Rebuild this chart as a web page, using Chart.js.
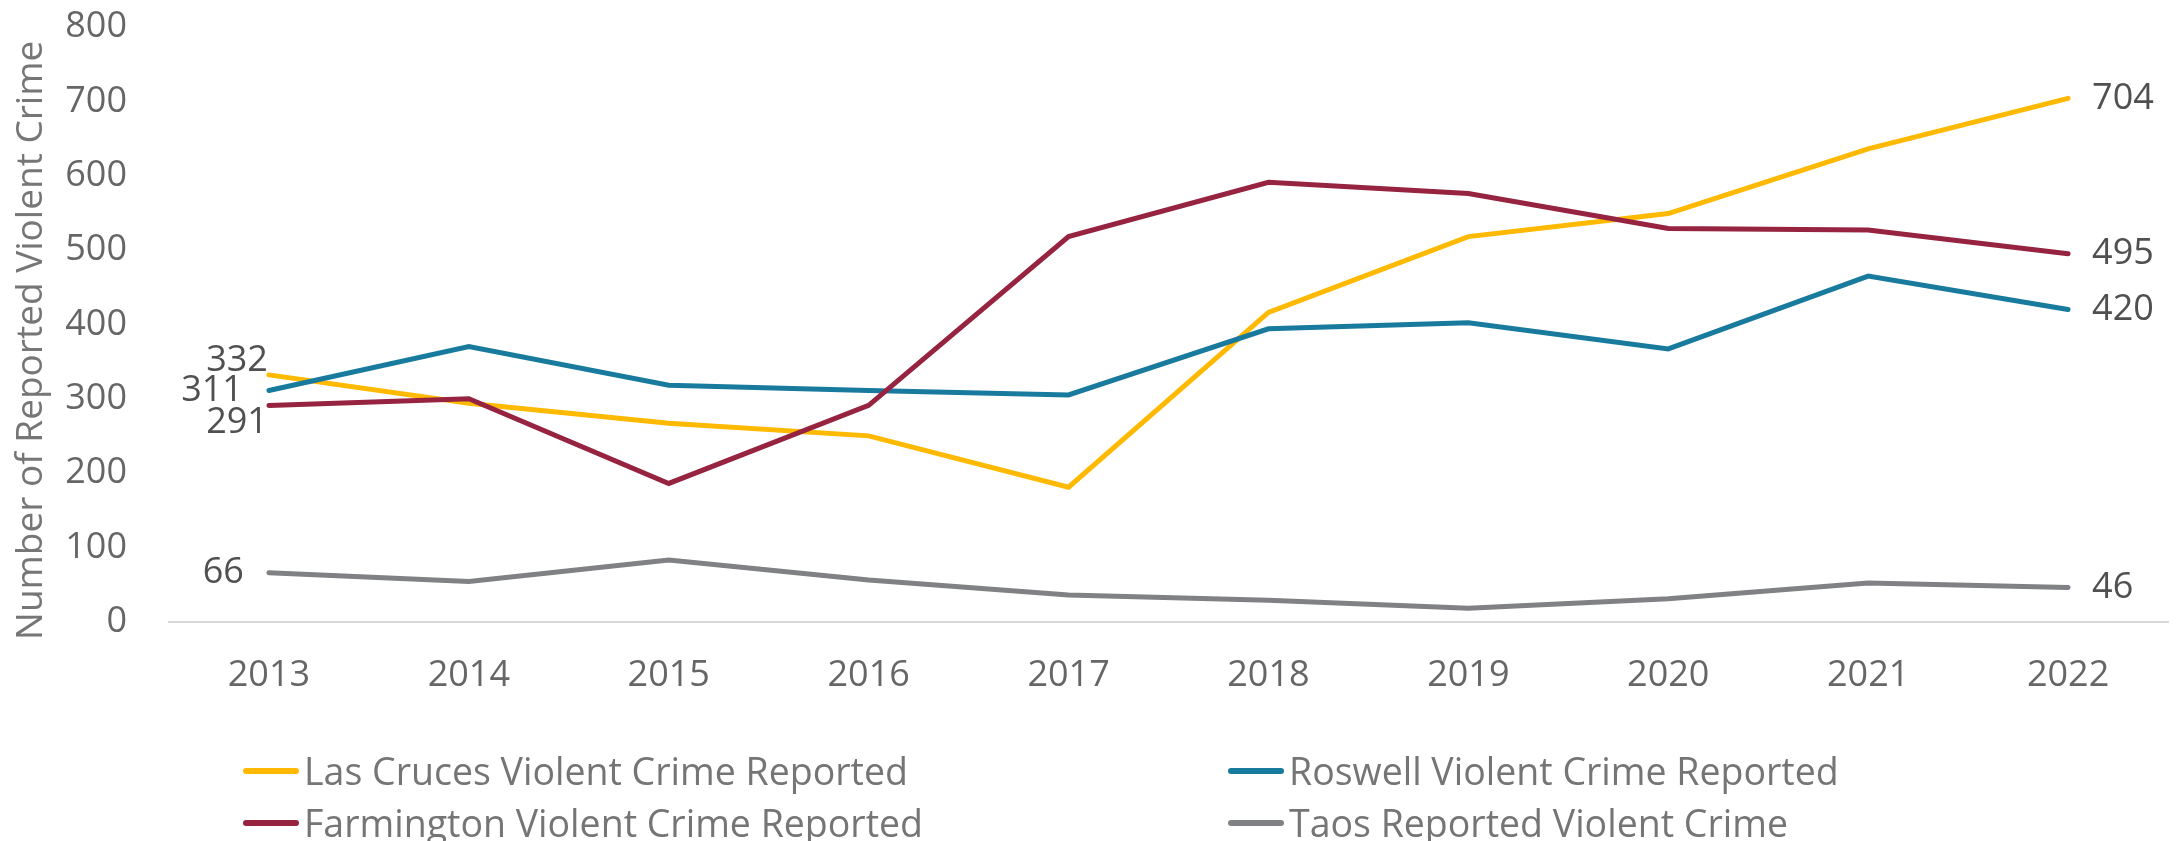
<!DOCTYPE html>
<html>
<head>
<meta charset="utf-8">
<script src="https://cdn.jsdelivr.net/npm/chart.js@4.4.0/dist/chart.umd.min.js"></script>
<style>
html, body { margin: 0; padding: 0; background: #fff; }
#wrap { position: relative; width: 2177px; height: 841px; }
#legend { position: absolute; left: 0; top: 0; width: 100%; height: 100%; pointer-events: none;
  font-family: "Open Sans"; font-size: 37.5px; color: #757575; }
.item { position: absolute; display: flex; align-items: center; white-space: nowrap; height: 40px; line-height: 40px; }
.sw { width: 56px; height: 6px; border-radius: 3px; margin-right: 5px; }
</style>
</head>
<body>
<div id="wrap">
  <canvas id="chart" width="2177" height="841"></canvas>
  <div id="legend"></div>
</div>
<script>
const years = ['2013', '2014', '2015', '2016', '2017', '2018', '2019', '2020', '2021', '2022'];
const lasCruces  = [332, 294, 267, 250, 181, 416, 518, 549, 636, 704];
const roswell    = [311, 370, 318, 311, 305, 394, 402, 367, 465, 420];
const farmington = [291, 300, 186, 291, 518, 591, 576, 529, 527, 495];
const taos       = [66, 54, 83, 56, 36, 29, 18, 31, 52, 46];

const seriesNames = [
  'Las Cruces Violent Crime Reported',
  'Roswell Violent Crime Reported',
  'Farmington Violent Crime Reported',
  'Taos Reported Violent Crime'
];
const seriesData = [lasCruces, roswell, farmington, taos];
const seriesColors = ['#FFB900', '#187B9E', '#962340', '#808184'];
const yTitle = 'Number of Reported Violent Crime';

// where the first value label sits relative to its point (dx, dy)
const firstLabelOffsets = [[-1, -14], [-26, 0], [-1, 17], [-25, 0]];

const font = { family: 'Open Sans', size: 36 };

const endLabels = {
  id: 'endLabels',
  afterDatasetsDraw(chart) {
    const ctx = chart.ctx;
    ctx.save();
    ctx.font = '36px "Open Sans"';
    ctx.fillStyle = '#505050';
    ctx.textBaseline = 'middle';
    chart.data.datasets.forEach((ds, i) => {
      const pts = chart.getDatasetMeta(i).data;
      const first = pts[0], last = pts[pts.length - 1];
      const off = firstLabelOffsets[i];
      ctx.textAlign = 'right';
      ctx.fillText(ds.data[0], first.x + off[0], first.y + off[1]);
      ctx.textAlign = 'left';
      ctx.fillText(ds.data[ds.data.length - 1], last.x + 24, last.y);
    });
    // y axis title, a little below the plot centre like the original
    const area = chart.chartArea;
    ctx.translate(31, (area.top + area.bottom) / 2 + 16);
    ctx.rotate(-Math.PI / 2);
    ctx.font = '37px "Open Sans"';
    ctx.fillStyle = '#767676';
    ctx.textAlign = 'center';
    ctx.fillText(yTitle, 0, 0);
    ctx.restore();
  }
};

new Chart(document.getElementById('chart'), {
  type: 'line',
  data: {
    labels: years,
    datasets: seriesNames.map((name, i) => ({
      label: name,
      data: seriesData[i],
      borderColor: seriesColors[i],
      backgroundColor: seriesColors[i],
      borderWidth: 5,
      borderCapStyle: 'round',
      pointRadius: 0,
      tension: 0,
      order: seriesNames.length - i
    }))
  },
  options: {
    responsive: false,
    devicePixelRatio: 1,
    animation: false,
    layout: { padding: { top: 27, right: 9, bottom: 130, left: 0 } },
    plugins: { legend: { display: false }, tooltip: { enabled: false } },
    scales: {
      x: {
        offset: true,
        grid: { display: false, drawTicks: false },
        border: { display: true, color: '#d9d9d9', width: 2 },
        ticks: { font: font, color: '#666666', padding: 32 },
        afterFit: s => { s.height = 89.3; }
      },
      y: {
        min: 0,
        max: 800,
        grid: { display: false, drawTicks: false },
        border: { display: false },
        ticks: { stepSize: 100, font: font, color: '#666666', padding: 42 },
        afterFit: s => {
          s.width = 169;
          s.paddingTop = 0;
          s.paddingBottom = 0;
        }
      }
    }
  },
  plugins: [endLabels]
});

// legend in two columns, built from the series
const legendPos = [[243, 771], [1228, 771], [243, 823], [1228, 823]];
const legend = document.getElementById('legend');
seriesNames.forEach((name, i) => {
  const item = document.createElement('div');
  item.className = 'item';
  item.style.left = legendPos[i][0] + 'px';
  item.style.top = (legendPos[i][1] - 20) + 'px';
  item.innerHTML = '<span class="sw" style="background:' + seriesColors[i] + '"></span><span>' + name + '</span>';
  legend.appendChild(item);
});
</script>
</body>
</html>
